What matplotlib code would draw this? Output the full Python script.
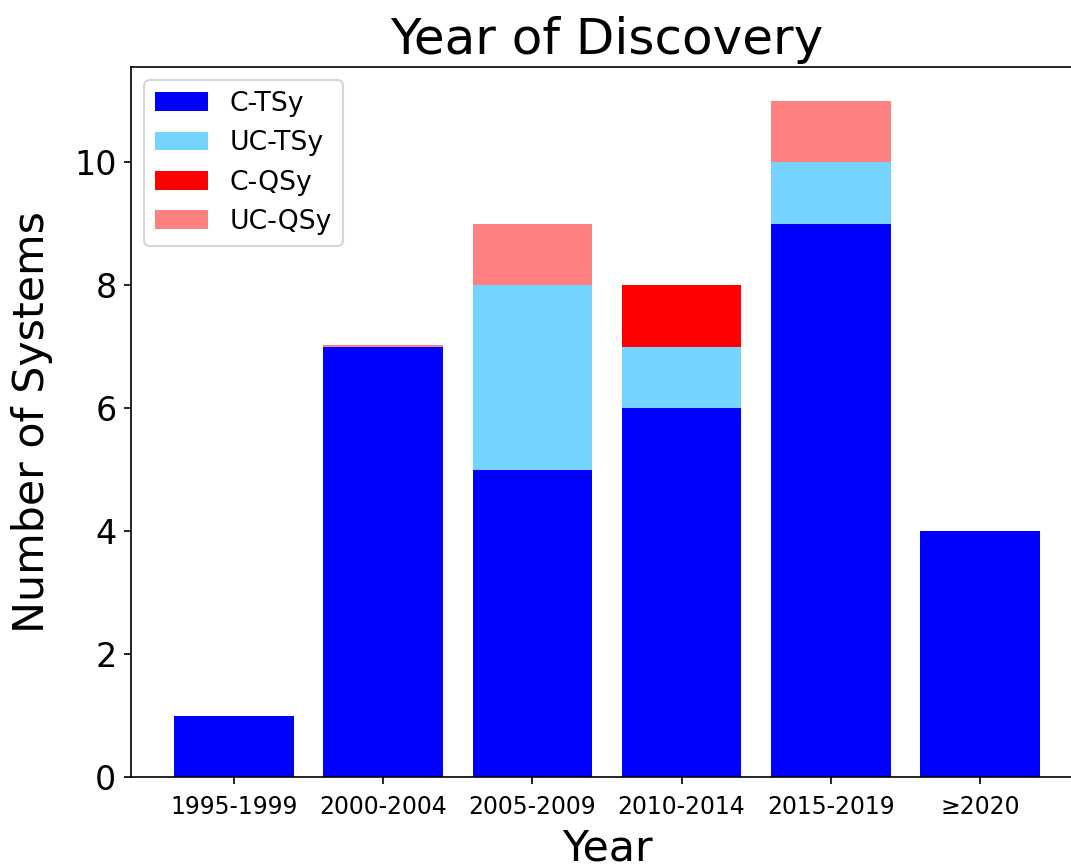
import matplotlib.pyplot as plt
import numpy as np

years = ["1995-1999", "2000-2004", "2005-2009", "2010-2014", "2015-2019", "≥2020"]
c_tsy = [1, 7, 5, 6, 9, 4]
uc_tsy = [0, 0, 3, 1, 1, 0]
c_qsy = [0, 0, 0, 1, 0, 0]
uc_qsy = [0, 0.02, 1, 0, 1, 0]

series = [
    ("C-TSy", c_tsy, "#0000ff"),
    ("UC-TSy", uc_tsy, "#75d4ff"),
    ("C-QSy", c_qsy, "#ff0000"),
    ("UC-QSy", uc_qsy, "#ff8080"),
]

fig = plt.figure(figsize=(7.14, 5.76), dpi=150)
ax = fig.add_axes([131 / 1071, 87 / 864, 952 / 1071, 710 / 864])

x = np.arange(len(years))
bottom = np.zeros(len(years))
for name, vals, col in series:
    vals = np.array(vals, dtype=float)
    ax.bar(x, vals, 0.8, bottom=bottom, color=col, label=name)
    bottom += vals

ax.set_xticks(x)
ax.set_xticklabels(years, fontsize=11.3)
ax.tick_params(axis="x", pad=5)
ax.tick_params(axis="y", labelsize=16)
ax.set_xlabel("Year", fontsize=20.5, labelpad=4)
ax.set_ylabel("Number of Systems", fontsize=20.5, labelpad=10)
ax.set_title("Year of Discovery", fontsize=24)
ax.legend(loc="upper left", fontsize=12.8)

fig.savefig("out.png", dpi=150)
